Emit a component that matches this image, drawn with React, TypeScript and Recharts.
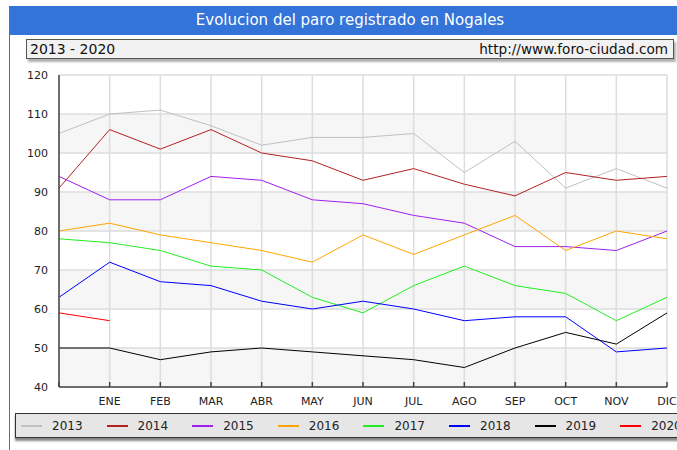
import React from "react";
import { LineChart, Line, XAxis, YAxis, CartesianGrid } from "recharts";

const months = ["", "ENE", "FEB", "MAR", "ABR", "MAY", "JUN", "JUL", "AGO", "SEP", "OCT", "NOV", "DIC"];
const y2013 = [105, 110, 111, 107, 102, 104, 104, 105, 95, 103, 91, 96, 91];
const y2014 = [91, 106, 101, 106, 100, 98, 93, 96, 92, 89, 95, 93, 94];
const y2015 = [94, 88, 88, 94, 93, 88, 87, 84, 82, 76, 76, 75, 80];
const y2016 = [80, 82, 79, 77, 75, 72, 79, 74, 79, 84, 75, 80, 78];
const y2017 = [78, 77, 75, 71, 70, 63, 59, 66, 71, 66, 64, 57, 63];
const y2018 = [63, 72, 67, 66, 62, 60, 62, 60, 57, 58, 58, 49, 50];
const y2019 = [50, 50, 47, 49, 50, 49, 48, 47, 45, 50, 54, 51, 59];
const y2020 = [59, 57];

const yTicks = [40, 50, 60, 70, 80, 90, 100, 110, 120];
const yMinorTicks = [40, 45, 50, 55, 60, 65, 70, 75, 80, 85, 90, 95, 100, 105, 110, 115, 120];

const title = "Evolucion del paro registrado en Nogales";
const subtitleLeft = "2013 - 2020";
const subtitleRight = "http://www.foro-ciudad.com";

const series = [
  { name: "2013", values: y2013, color: "#c0c0c0" },
  { name: "2014", values: y2014, color: "#b22222" },
  { name: "2015", values: y2015, color: "#a020f0" },
  { name: "2016", values: y2016, color: "#ffa500" },
  { name: "2017", values: y2017, color: "#22ee22" },
  { name: "2018", values: y2018, color: "#0000ff" },
  { name: "2019", values: y2019, color: "#000000" },
  { name: "2020", values: y2020, color: "#ff0000" },
];

const data = months.map((m, i) => {
  const row: Record<string, any> = { month: m };
  series.forEach((s) => {
    row["y" + s.name] = s.values[i];
  });
  return row;
});

const FONT = "'DejaVu Sans', Verdana, sans-serif";

export default function App() {
  return (
    <div
      style={{
        position: "absolute",
        left: 0,
        top: 0,
        width: 677,
        height: 450,
        background: "#ffffff",
        overflow: "hidden",
        fontFamily: FONT,
      }}
    >
      {/* title bar */}
      <div
        style={{
          position: "absolute",
          left: 9,
          top: 6,
          width: 700,
          height: 29,
          background: "#3473d7",
        }}
      />
      <div
        style={{
          position: "absolute",
          left: 350,
          top: 6,
          height: 29,
          lineHeight: "29px",
          transform: "translateX(-50%)",
          whiteSpace: "nowrap",
          color: "#ffffff",
          fontSize: 15,
        }}
      >
        {title}
      </div>
      {/* left frame border */}
      <div style={{ position: "absolute", left: 9, top: 6, width: 1, height: 450, background: "#3473d7" }} />

      {/* subtitle box */}
      <div
        style={{
          position: "absolute",
          left: 26,
          top: 39,
          width: 646,
          height: 18,
          background: "#f2f2f2",
          border: "1px solid #555",
          boxShadow: "2px 3px 2px #b0b0b0",
        }}
      />
      <div style={{ position: "absolute", left: 30, top: 39, lineHeight: "20px", fontSize: 14, color: "#111", whiteSpace: "nowrap" }}>
        {subtitleLeft}
      </div>
      <div style={{ position: "absolute", right: 9, top: 39, lineHeight: "20px", fontSize: 13.6, color: "#111", whiteSpace: "nowrap" }}>
        {subtitleRight}
      </div>

      {/* chart */}
      <div style={{ position: "absolute", left: 0, top: 0 }}>
        <LineChart width={677} height={450} data={data} margin={{ top: 75, right: 10, bottom: 33, left: 11 }}>
          <CartesianGrid
            stroke="#dddddd"
            strokeWidth={1.5}
            horizontalFill={["#ffffff", "#f6f6f6"]}
            fillOpacity={1}
          />
          <XAxis
            dataKey="month"
            height={30}
            interval={0}
            tickSize={-5}
            tickMargin={15}
            stroke="#444"
            strokeWidth={1.5}
            tick={{ fontSize: 11, fill: "#222", fontFamily: FONT }}
          />
          <YAxis
            width={48}
            domain={[40, 120]}
            ticks={yTicks}
            interval={0}
            tickLine={false}
            tickSize={0}
            tickMargin={11}
            stroke="#444"
            strokeWidth={1.5}
            tick={{ fontSize: 11, fill: "#222", fontFamily: FONT }}
          />
          <YAxis
            yAxisId="minor"
            width={1}
            mirror
            domain={[40, 120]}
            ticks={yMinorTicks}
            interval={0}
            tick={false}
            tickSize={5}
            axisLine={false}
            stroke="#444"
            strokeWidth={1.5}
          />
          {series.map((s) => (
            <Line
              key={s.name}
              dataKey={"y" + s.name}
              stroke={s.color}
              strokeWidth={1}
              dot={false}
              activeDot={false}
              isAnimationActive={false}
            />
          ))}
        </LineChart>
      </div>

      {/* legend */}
      <div
        style={{
          position: "absolute",
          left: 15,
          top: 413,
          width: 680,
          height: 23,
          background: "#e6e6e6",
          border: "1px solid #333",
          boxShadow: "0px 3px 2px #888",
        }}
      />
      {series.map((s, i) => (
        <div
          key={s.name}
          style={{
            position: "absolute",
            left: 21 + i * 85.6,
            top: 414,
            height: 23,
            display: "flex",
            alignItems: "center",
            whiteSpace: "nowrap",
          }}
        >
          <div style={{ width: 21, height: 2, background: s.color }} />
          <span style={{ marginLeft: 10, fontSize: 12, color: "#222" }}>{s.name}</span>
        </div>
      ))}
    </div>
  );
}
